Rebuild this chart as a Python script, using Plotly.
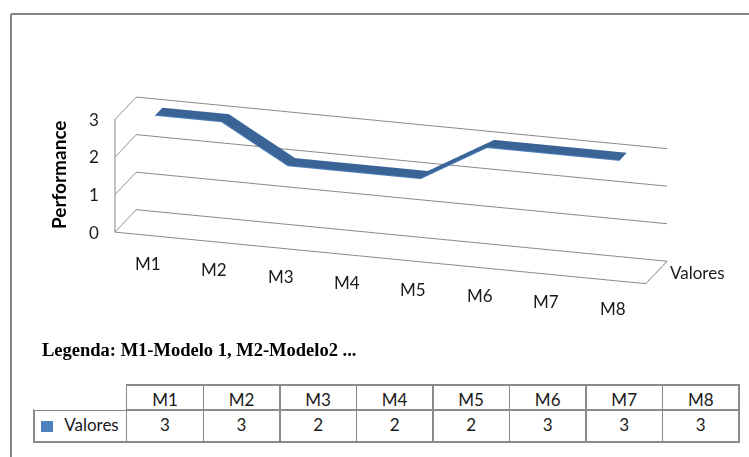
import plotly.graph_objects as go

# Data
categories = ["M1", "M2", "M3", "M4", "M5", "M6", "M7", "M8"]
valores = [3, 3, 2, 2, 2, 3, 3, 3]
series_name = "Valores"
z_ticks = [0, 1, 2, 3]
y_title = "Performance"
legend_note = "Legenda: M1-Modelo 1, M2-Modelo2 ..."

# Ribbon depth within the series row
depth_lo, depth_hi = 0.33, 0.67

xs = list(range(len(categories)))
mx, my, mz, ii, jj, kk = [], [], [], [], [], []
for idx, v in zip(xs, valores):
    mx += [idx, idx]
    my += [depth_lo, depth_hi]
    mz += [v, v]
for n in range(len(xs) - 1):
    a, b, c, d = 2 * n, 2 * n + 1, 2 * n + 2, 2 * n + 3
    ii += [a, b]
    jj += [b, d]
    kk += [c, c]

fig = go.Figure()
fig.add_trace(go.Mesh3d(
    x=mx, y=my, z=mz, i=ii, j=jj, k=kk,
    color="#3B6496", flatshading=True,
    lighting=dict(ambient=1, diffuse=0, specular=0, roughness=1, fresnel=0),
    hoverinfo="skip", showscale=False,
))
fig.add_trace(go.Scatter3d(
    x=xs, y=[depth_lo] * len(xs), z=valores, mode="lines",
    line=dict(color="#4F81BD", width=2), hoverinfo="skip", showlegend=False,
))

grid_col = "#8A8A8A"
label_font = dict(family="Lato", size=17, color="#1A1A1A")
x_lo, x_hi = -0.5, len(categories) - 0.5
z_lo, z_hi = z_ticks[0], z_ticks[-1] + 0.02

# Axis labels placed in scene coordinates
scene_ann = []
for idx, name in zip(xs, categories):
    scene_ann.append(dict(x=idx, y=0, z=z_lo, text=name, showarrow=False,
                          yshift=-28, font=label_font))
for t in z_ticks:
    scene_ann.append(dict(x=x_lo, y=0, z=t, text=str(t), showarrow=False,
                          xshift=-21, font=label_font))
scene_ann.append(dict(x=x_hi, y=0.5, z=z_lo, text=series_name, showarrow=False,
                      xanchor="left", xshift=12, font=label_font))

axis_common = dict(zeroline=False, showbackground=False, showline=True,
                   linecolor=grid_col, linewidth=2, ticks="",
                   showticklabels=False, title=dict(text=""), showspikes=False)

fig.update_layout(
    width=749, height=457,
    margin=dict(l=0, r=0, t=0, b=0),
    paper_bgcolor="white",
    showlegend=False,
    scene=dict(
        domain=dict(x=[0.0437, 1.0], y=[0.2935, 0.8755]),
        bgcolor="white",
        xaxis=dict(range=[x_lo, x_hi], tickvals=xs, showgrid=False, **axis_common),
        yaxis=dict(range=[0, 1], tickvals=[0.5], showgrid=False, **axis_common),
        zaxis=dict(range=[z_lo, z_hi], tickvals=z_ticks, showgrid=True,
                   gridcolor=grid_col, gridwidth=2, **axis_common),
        aspectmode="manual",
        aspectratio=dict(x=4.17, y=0.55, z=0.9),
        camera=dict(
            eye=dict(x=0.30, y=-0.99, z=0.35),
            up=dict(x=0, y=0, z=1),
            center=dict(x=0, y=0, z=0),
            projection=dict(type="orthographic"),
        ),
        annotations=scene_ann,
    ),
)

# Value-axis title
fig.add_annotation(
    text="<b>" + y_title + "</b>", textangle=-90,
    x=58 / 749, y=1 - 175 / 457, xref="paper", yref="paper",
    xanchor="center", yanchor="middle",
    showarrow=False, font=dict(family="Lato", size=19, color="#000000"),
)

# Caption below the chart
fig.add_annotation(
    text="<b>" + legend_note + "</b>",
    x=40 / 749, y=1 - 350 / 457, xref="paper", yref="paper",
    xanchor="left", yanchor="middle", showarrow=False,
    font=dict(family="Liberation Serif", size=18.5, color="#000000"),
)

# Data table under the chart
border = "#8A8A8A"
table_font = dict(family="Lato", size=17, color="#1A1A1A")
tbl_left, tbl_right, tbl_top = 34, 739, 385
head_h, row_h = 25, 32
tbl_bottom = tbl_top + head_h + row_h
fig.add_trace(go.Table(
    domain=dict(x=[tbl_left / 749, tbl_right / 749],
                y=[0, 1 - tbl_top / 457]),
    columnwidth=[92.7] + [76.5] * len(categories),
    header=dict(
        values=[""] + categories, height=head_h, align="center",
        line=dict(color=border, width=[0] + [1.5] * len(categories)),
        fill=dict(color="white"), font=table_font,
    ),
    cells=dict(
        values=[[series_name]] + [[str(v)] for v in valores], height=row_h,
        align=["right"] + ["center"] * len(categories),
        line=dict(color=border, width=1.5),
        fill=dict(color="white"), font=table_font,
    ),
))

# Bottom rule of the table
fig.add_shape(type="line", xref="paper", yref="paper",
              x0=tbl_left / 749, x1=tbl_right / 749,
              y0=1 - tbl_bottom / 457, y1=1 - tbl_bottom / 457,
              line=dict(color=border, width=1.5))

# Series key inside the table's row header
fig.add_shape(type="rect", xref="paper", yref="paper",
              x0=41 / 749, x1=53 / 749, y0=1 - 432 / 457, y1=1 - 421 / 457,
              fillcolor="#4F81BD", line=dict(width=0))

# Outer frame of the chart area
fig.add_shape(type="line", xref="paper", yref="paper",
              x0=11 / 749, x1=11 / 749, y0=0, y1=1 - 14 / 457,
              line=dict(color="#858585", width=2))
fig.add_shape(type="line", xref="paper", yref="paper",
              x0=11 / 749, x1=1, y0=1 - 14 / 457, y1=1 - 14 / 457,
              line=dict(color="#858585", width=2))

fig.write_html("out.html")
